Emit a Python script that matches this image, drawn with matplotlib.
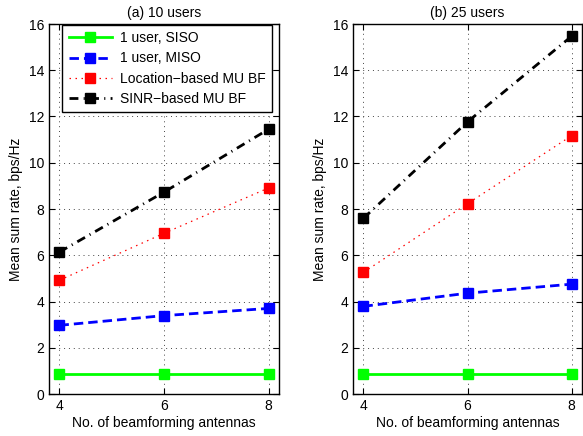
import matplotlib.pyplot as plt

plt.rcParams['font.family'] = ['Liberation Sans', 'DejaVu Sans']
plt.rcParams['font.size'] = 10

antennas = [4, 6, 8]

siso_10 = [0.87, 0.87, 0.87]
miso_10 = [2.97, 3.39, 3.70]
loc_10 = [4.92, 6.95, 8.91]
sinr_10 = [6.14, 8.73, 11.45]

siso_25 = [0.87, 0.87, 0.87]
miso_25 = [3.79, 4.36, 4.75]
loc_25 = [5.26, 8.23, 11.17]
sinr_25 = [7.60, 11.77, 15.47]

labels = ["1 user, SISO", "1 user, MISO", "Location\u2212based MU BF", "SINR\u2212based MU BF"]
titles = ["(a) 10 users", "(b) 25 users"]

fig = plt.figure(figsize=(5.83, 4.36), dpi=100)
ax1 = fig.add_axes([49 / 583, 42 / 436, 230 / 583, 370 / 436])
ax2 = fig.add_axes([353 / 583, 42 / 436, 229 / 583, 370 / 436])

styles = [
    dict(color="#00ff00", linestyle="-", linewidth=2.0),
    dict(color="#0000ff", linestyle=(0, (3.4, 1.8)), linewidth=2.0),
    dict(color="#ff0000", linestyle=(0, (1.2, 3.6)), linewidth=0.9),
    dict(color="black", linestyle=(0, (3.2, 1.9, 0.4, 1.9)), linewidth=2.0),
]

for ax, data, title in [(ax1, [siso_10, miso_10, loc_10, sinr_10], titles[0]),
                        (ax2, [siso_25, miso_25, loc_25, sinr_25], titles[1])]:
    for vals, st, lab in zip(data, styles, labels):
        ax.plot(antennas, vals, marker="s", markersize=7,
                markeredgecolor=st["color"], label=lab, **st)
    ax.set_xlim(3.8, 8.2)
    ax.set_ylim(0, 16)
    ax.set_xticks([4, 6, 8])
    ax.set_yticks(range(0, 17, 2))
    ax.grid(True, color="#444444", linestyle=(0, (1, 4)), linewidth=0.7)
    ax.tick_params(direction="in", top=True, right=True, length=4, width=0.8)
    for s in ax.spines.values():
        s.set_linewidth(1.0)
    ax.set_xlabel("No. of beamforming antennas", labelpad=2)
    ax.set_ylabel("Mean sum rate, bps/Hz", labelpad=4)
    ax.set_title(title, fontsize=10, pad=5)

leg = ax1.legend(loc="upper right", bbox_to_anchor=(1 - 7 / 230, 1 - 1 / 370),
                 borderaxespad=0, fancybox=False,
                 edgecolor="black", framealpha=1, handlelength=3.1,
                 borderpad=0.45, labelspacing=0.45, handletextpad=0.6)
leg.get_frame().set_linewidth(1.0)

fig.savefig("out.png", dpi=100)
